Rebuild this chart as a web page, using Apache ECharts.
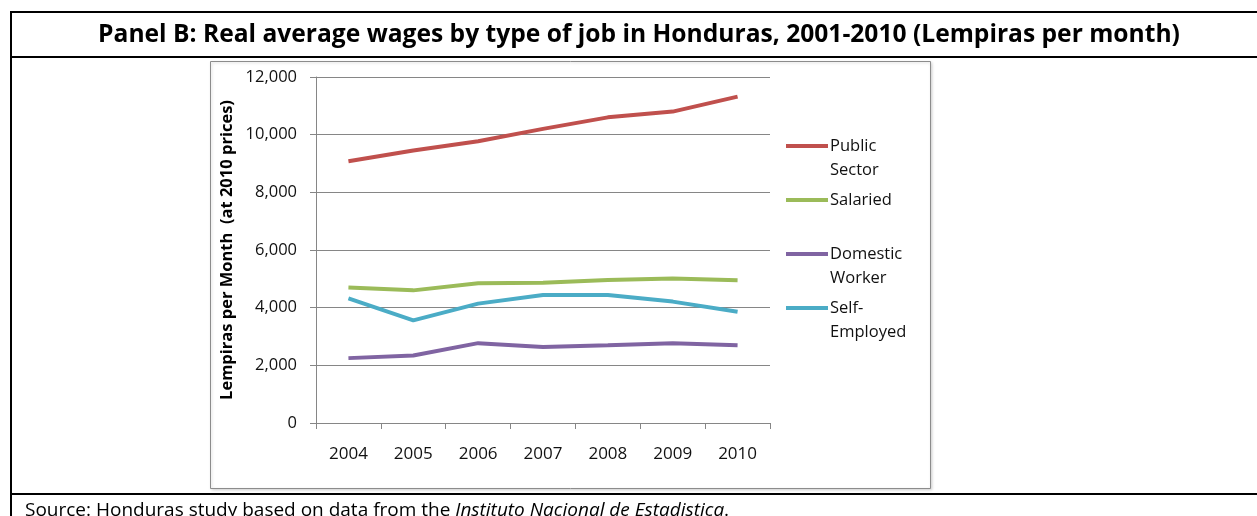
<!DOCTYPE html>
<html>
<head>
<meta charset="utf-8">
<script src="https://cdn.jsdelivr.net/npm/echarts@6/dist/echarts.min.js"></script>
<style>
  html, body { margin: 0; padding: 0; background: #fff; }
  #chart { width: 1257px; height: 516px; }
</style>
</head>
<body>
<div id="chart"></div>
<script>
// Years on the category axis
const years = ['2004', '2005', '2006', '2007', '2008', '2009', '2010'];

// Real average monthly wages (Lempiras, 2010 prices)
const publicSector = [9080, 9450, 9770, 10200, 10600, 10800, 11320];
const salaried     = [4700, 4600, 4850, 4860, 4960, 5010, 4950];
const domestic     = [2250, 2340, 2770, 2640, 2700, 2770, 2700];
const selfEmployed = [4320, 3560, 4140, 4440, 4440, 4210, 3860];

// Series names and how they wrap in the legend
const seriesNames = ['Public Sector', 'Salaried', 'Domestic Worker', 'Self-Employed'];
const legendLines = [['Public', 'Sector'], ['Salaried'], ['Domestic', 'Worker'], ['Self-', 'Employed']];

// Value-axis ticks
const yTicks = [0, 2000, 4000, 6000, 8000, 10000, 12000];

const FONT = '"Open Sans", Lato, sans-serif';
const colors = ['#C0504D', '#9BBB59', '#8064A2', '#4BACC6'];
const seriesData = [publicSector, salaried, domestic, selfEmployed];

function lineSeries(i) {
  return {
    name: seriesNames[i],
    type: 'line',
    data: seriesData[i],
    symbol: 'none',
    lineStyle: { color: colors[i], width: 4 },
    itemStyle: { color: colors[i] },
    emphasis: { disabled: true }
  };
}

// One legend block per entry; a blank leading line keeps the swatch level with the
// first row of a two-row label (legend text is centred on its swatch).
const LH = 24;
function legendEntry(i, iconY) {
  const lines = legendLines[i];
  const twoRows = lines.length > 1;
  const text = twoRows ? '\n' + lines.join('\n') : lines[0];
  const rows = twoRows ? 3 : 1;
  return {
    show: true,
    data: [{ name: seriesNames[i] }],
    formatter: () => text,
    left: 786,
    top: iconY - rows * LH / 2,
    padding: 0,
    icon: 'rect',
    itemWidth: 42,
    itemHeight: 4,
    itemGap: 0,
    textStyle: { fontFamily: FONT, fontSize: 16.5, color: '#111', lineHeight: LH, padding: [0, 0, 0, -3] }
  };
}

const chart = echarts.init(document.getElementById('chart'), null, { renderer: 'canvas' });

chart.setOption({
  animation: false,
  backgroundColor: '#ffffff',
  graphic: [
    // table rules
    { type: 'line', shape: { x1: 10, y1: 12, x2: 1257, y2: 12 }, style: { stroke: '#000', lineWidth: 2 } },
    { type: 'line', shape: { x1: 11, y1: 11, x2: 11, y2: 516 }, style: { stroke: '#000', lineWidth: 2 } },
    { type: 'line', shape: { x1: 10, y1: 57, x2: 1257, y2: 57 }, style: { stroke: '#000', lineWidth: 2 } },
    { type: 'line', shape: { x1: 10, y1: 494, x2: 1257, y2: 494 }, style: { stroke: '#000', lineWidth: 2 } },
    // chart frame
    { type: 'rect', shape: { x: 210.5, y: 61.5, width: 720, height: 427 },
      style: { fill: '#fff', stroke: '#8c8c8c', lineWidth: 1, shadowColor: 'rgba(0,0,0,0.18)', shadowBlur: 3, shadowOffsetX: 1, shadowOffsetY: 1 }, z: -10 },
    // title
    { type: 'text', x: 639, y: 35,
      style: { text: 'Panel B: Real average wages by type of job in Honduras, 2001-2010 (Lempiras per month)',
               fontFamily: FONT, fontWeight: 'bold', fontSize: 24.6, fill: '#000', align: 'center', verticalAlign: 'middle' } },
    // source note
    { type: 'text', x: 25, y: 511,
      style: { text: '{n|Source: Honduras study based on data from the }{i|Instituto Nacional de Estadistica}{n|.}',
               verticalAlign: 'middle',
               rich: {
                 n: { fontFamily: FONT, fontSize: 19, fill: '#000' },
                 i: { fontFamily: FONT, fontSize: 19, fontStyle: 'italic', fill: '#000' }
               } } }
  ],
  grid: { left: 316, right: 487, top: 77, bottom: 93, containLabel: false },
  legend: [
    legendEntry(0, 146),
    legendEntry(1, 200),
    legendEntry(2, 254),
    legendEntry(3, 308)
  ],
  xAxis: {
    type: 'category',
    data: years,
    boundaryGap: true,
    axisLine: { lineStyle: { color: '#868686', width: 1 } },
    axisTick: { show: true, length: 6, alignWithLabel: false, lineStyle: { color: '#868686' } },
    axisLabel: { fontFamily: FONT, fontSize: 17, color: '#111', margin: 23 },
    splitLine: { show: false }
  },
  yAxis: {
    type: 'value',
    min: yTicks[0],
    max: yTicks[yTicks.length - 1],
    interval: 2000,
    name: 'Lempiras per Month  (at 2010 prices)',
    nameLocation: 'middle',
    nameGap: 80,
    nameTextStyle: { fontFamily: FONT, fontWeight: 'bold', fontSize: 16.5, color: '#000' },
    axisLine: { show: true, lineStyle: { color: '#868686', width: 1 } },
    axisTick: { show: true, length: 6, lineStyle: { color: '#868686' } },
    axisLabel: {
      fontFamily: FONT, fontSize: 16.5, color: '#111', margin: 19,
      formatter: v => v.toLocaleString('en-US')
    },
    splitLine: { show: true, lineStyle: { color: '#868686', width: 1 } }
  },
  series: [0, 1, 2, 3].map(lineSeries)
});
</script>
</body>
</html>
